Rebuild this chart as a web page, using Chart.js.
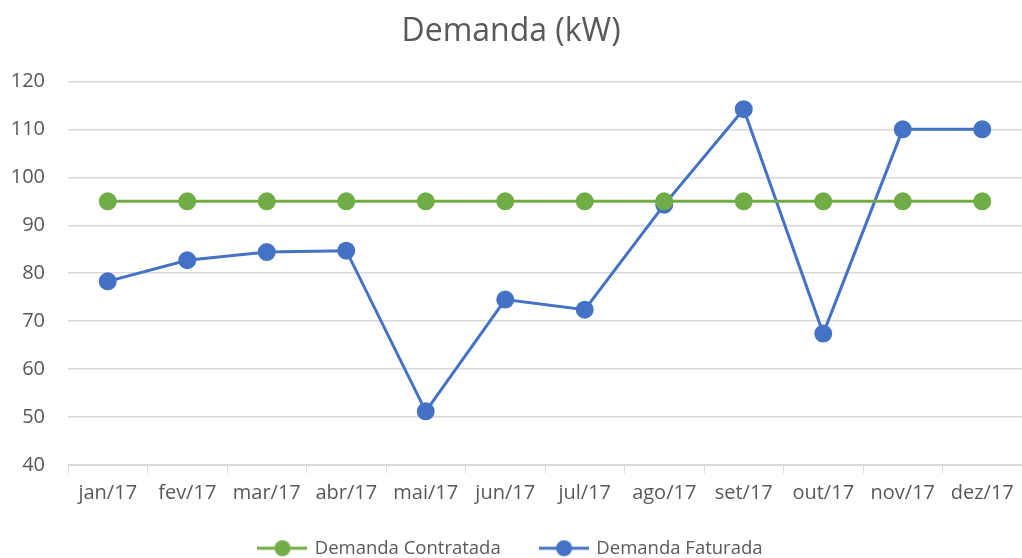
<!DOCTYPE html>
<html>
<head>
<meta charset="utf-8">
<script src="https://cdn.jsdelivr.net/npm/chart.js@4"></script>
<style>
  html, body { margin: 0; padding: 0; background: #fff; }
  #wrap { width: 1022px; height: 558px; }
</style>
</head>
<body>
<div id="wrap"><canvas id="lineChart" width="1022" height="558"></canvas></div>
<script>
var meses = ["jan/17", "fev/17", "mar/17", "abr/17", "mai/17", "jun/17",
             "jul/17", "ago/17", "set/17", "out/17", "nov/17", "dez/17"];
var demandaContratada = [95, 95, 95, 95, 95, 95, 95, 95, 95, 95, 95, 95];
var demandaFaturada = [78.3, 82.7, 84.4, 84.7, 51.2, 74.5, 72.4, 94.3, 114.2, 67.4, 110, 110];

var FONT = "'Open Sans', 'Liberation Sans', sans-serif";
var TEXT = "#595959";

// legend marker: short line with a dot in the middle
function marker(color) {
    var c = document.createElement("canvas");
    c.width = 50; c.height = 20;
    var g = c.getContext("2d");
    g.strokeStyle = color; g.lineWidth = 3;
    g.beginPath(); g.moveTo(0, 10); g.lineTo(50, 10); g.stroke();
    g.fillStyle = color;
    g.beginPath(); g.arc(25, 10, 8, 0, Math.PI * 2); g.fill();
    return c;
}

var ctx = document.getElementById("lineChart");
var myLineGraph = new Chart(ctx, {
    type: "line",
    data: {
        labels: meses,
        datasets: [
            {
                label: "Demanda Contratada",
                data: demandaContratada,
                borderColor: "#70ad47",
                backgroundColor: "#70ad47",
                borderWidth: 3,
                pointRadius: 7.5,
                pointHoverRadius: 7.5,
                tension: 0
            },
            {
                label: "Demanda Faturada",
                data: demandaFaturada,
                borderColor: "#4472c4",
                backgroundColor: "#4472c4",
                borderWidth: 3,
                pointRadius: 7.5,
                pointHoverRadius: 7.5,
                tension: 0
            }
        ]
    },
    options: {
        responsive: false,
        animation: false,
        layout: { autoPadding: false, padding: { left: 0, right: 0, top: 13, bottom: 0 } },
        plugins: {
            title: {
                display: true,
                text: "Demanda (kW)",
                color: TEXT,
                font: { family: FONT, size: 32, weight: "normal" },
                padding: { top: 0, bottom: 30 }
            },
            legend: {
                position: "bottom",
                maxHeight: 45,
                labels: {
                    color: TEXT,
                    font: { family: FONT, size: 18.5 },
                    usePointStyle: true,
                    pointStyleWidth: 46,
                    padding: 26,
                    generateLabels: function (chart) {
                        return chart.data.datasets.map(function (ds, i) {
                            // trailing spaces widen the gap between the two entries
                            var txt = i === 0 ? ds.label + "\u00a0\u00a0\u00a0" : ds.label;
                            return {
                                text: txt,
                                pointStyle: marker(ds.borderColor),
                                fontColor: TEXT,
                                datasetIndex: i,
                                hidden: false,
                                lineWidth: 0
                            };
                        });
                    }
                }
            },
            tooltip: { enabled: false }
        },
        scales: {
            x: {
                offset: true,
                grid: {
                    offset: true,
                    drawOnChartArea: false,
                    drawTicks: true,
                    tickLength: 8,
                    color: "#d9d9d9"
                },
                border: { color: "#d9d9d9", width: 1 },
                ticks: {
                    color: TEXT,
                    font: { family: FONT, size: 20 },
                    maxRotation: 0,
                    padding: 8
                },
                afterFit: function (scale) { scale.paddingLeft = 0; scale.paddingRight = 0; }
            },
            y: {
                min: 40,
                max: 120,
                ticks: {
                    stepSize: 10,
                    color: TEXT,
                    font: { family: FONT, size: 20 },
                    padding: 23
                },
                grid: { color: "#d9d9d9", lineWidth: 1.5, drawTicks: false },
                border: { display: false },
                afterFit: function (scale) { scale.width = 68; }
            }
        }
    }
});
</script>
</body>
</html>
